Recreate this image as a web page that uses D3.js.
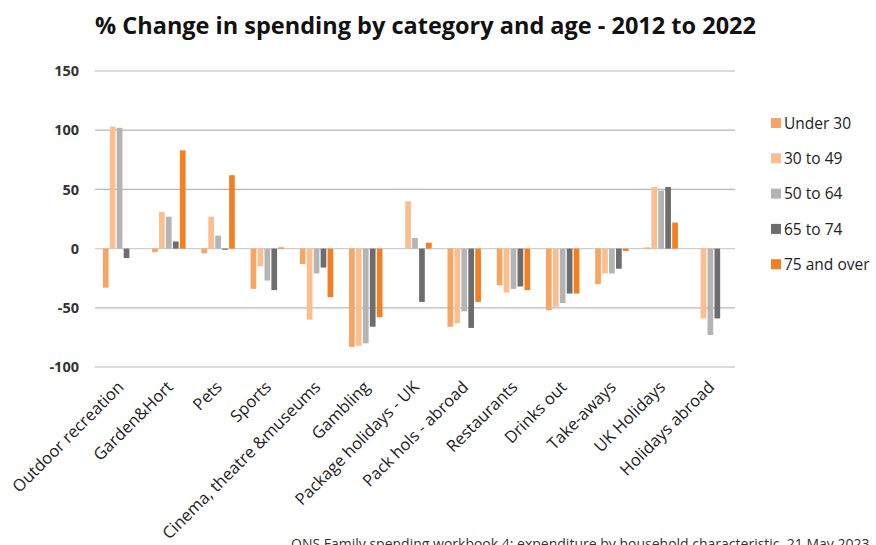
<!DOCTYPE html>
<html>
<head>
<meta charset="utf-8">
<script src="https://cdn.jsdelivr.net/npm/d3@7"></script>
<style>
  body { margin: 0; background: #fff; }
  svg { display: block; font-family: 'Open Sans', Lato, sans-serif; }
</style>
</head>
<body>
<div id="chart"></div>
<script>
// categories and age groups
const categories = ['Outdoor recreation', 'Garden&Hort', 'Pets', 'Sports', 'Cinema, theatre &museums',
  'Gambling', 'Package holidays - UK', 'Pack hols - abroad', 'Restaurants', 'Drinks out',
  'Take-aways', 'UK Holidays', 'Holidays abroad']
const ageGroups = ['Under 30', '30 to 49', '50 to 64', '65 to 74', '75 and over']

// % change per age group, one value per category
const under30 = [-33, -3, -4, -34, -13, -83, 0, -66, -31, -52, -30, 1, 0]
const age30to49 = [103, 31, 27, -15, -60, -82, 40, -63, -37, -49, -21, 52, -59]
const age50to64 = [102, 27, 11, -27, -21, -80, 9, -53, -34, -46, -21, 49, -73]
const age65to74 = [-8, 6, -1, -35, -16, -66, -45, -67, -32, -38, -17, 52, -59]
const age75plus = [0, 83, 62, 1, -41, -58, 5, -45, -35, -38, -2, 22, 0]

const yTicks = [-100, -50, 0, 50, 100, 150]
const colours = ['#f8a463', '#fbbe8f', '#b4b4b4', '#6d6d6d', '#f47f22']

const series = [under30, age30to49, age50to64, age65to74, age75plus]
const rows = categories.map((c, i) => ({
  category: c,
  values: ageGroups.map((g, j) => ({ key: g, value: series[j][i] }))
}))

const width = 876
const height = 545
const margin = { top: 71, right: 141, bottom: 178, left: 95 }

const svg = d3.select('#chart')
  .append('svg')
  .attr('width', width)
  .attr('height', height)

svg.append('text')
  .attr('x', 95)
  .attr('y', 34)
  .attr('font-size', 23.5)
  .attr('font-weight', 'bold')
  .attr('fill', '#111')
  .text('% Change in spending by category and age - 2012 to 2022')

const x0 = d3.scaleBand()
  .domain(categories)
  .range([margin.left, width - margin.right])
  .paddingInner(0.27)
  .paddingOuter(0.135)

const x1 = d3.scaleBand()
  .domain(ageGroups)
  .range([0, x0.bandwidth()])
  .padding(0.18)

const y = d3.scaleLinear()
  .domain([-100, 150])
  .range([height - margin.bottom, margin.top])

const color = d3.scaleOrdinal().domain(ageGroups).range(colours)

// gridlines
svg.append('g')
  .attr('class', 'grid')
  .selectAll('line')
  .data(yTicks)
  .enter()
  .append('line')
  .attr('x1', margin.left)
  .attr('x2', width - margin.right)
  .attr('y1', d => y(d))
  .attr('y2', d => y(d))
  .attr('stroke', d => d === 0 ? '#cfcfcf' : '#b8b8b8')
  .attr('stroke-width', 1.2)

// y axis labels
const yAxis = svg.append('g')
  .attr('transform', `translate(${margin.left - 16},0)`)
  .call(d3.axisLeft(y).tickValues(yTicks).tickSize(0).tickPadding(0).tickFormat(d => String(d)))
yAxis.select('.domain').remove()
yAxis.selectAll('text')
  .attr('font-family', "'Open Sans', sans-serif")
  .attr('font-size', 14.5)
  .attr('font-weight', 'bold')
  .attr('fill', '#333')

// bars
svg.append('g')
  .selectAll('g')
  .data(rows)
  .enter()
  .append('g')
  .attr('transform', d => `translate(${x0(d.category)},0)`)
  .selectAll('rect')
  .data(d => d.values)
  .enter()
  .append('rect')
  .attr('x', d => x1(d.key))
  .attr('width', x1.bandwidth())
  .attr('y', d => y(Math.max(0, d.value)))
  .attr('height', d => Math.abs(y(d.value) - y(0)))
  .attr('fill', d => color(d.key))

// x labels
svg.append('g')
  .selectAll('text')
  .data(categories)
  .enter()
  .append('text')
  .attr('transform', d => `translate(${x0(d) + x0.bandwidth() / 2 + 1},${y(-100) + 17}) rotate(-45)`)
  .attr('text-anchor', 'end')
  .attr('dy', '0.35em')
  .attr('font-size', 16.5)
  .attr('fill', '#222')
  .text(d => d)

// legend
const legend = svg.append('g')
  .selectAll('g')
  .data(ageGroups)
  .enter()
  .append('g')
  .attr('transform', (d, i) => `translate(771,${118 + i * 35.3})`)

legend.append('rect')
  .attr('width', 10)
  .attr('height', 10)
  .attr('fill', d => color(d))

legend.append('text')
  .attr('x', 13)
  .attr('y', 5)
  .attr('dy', '0.38em')
  .attr('font-size', 15.5)
  .attr('fill', '#222')
  .text(d => d)

svg.append('text')
  .attr('x', 291)
  .attr('y', 549)
  .attr('font-size', 14)
  .attr('fill', '#333')
  .text('ONS Family spending workbook 4: expenditure by household characteristic, 21 May 2023')
</script>
</body>
</html>
